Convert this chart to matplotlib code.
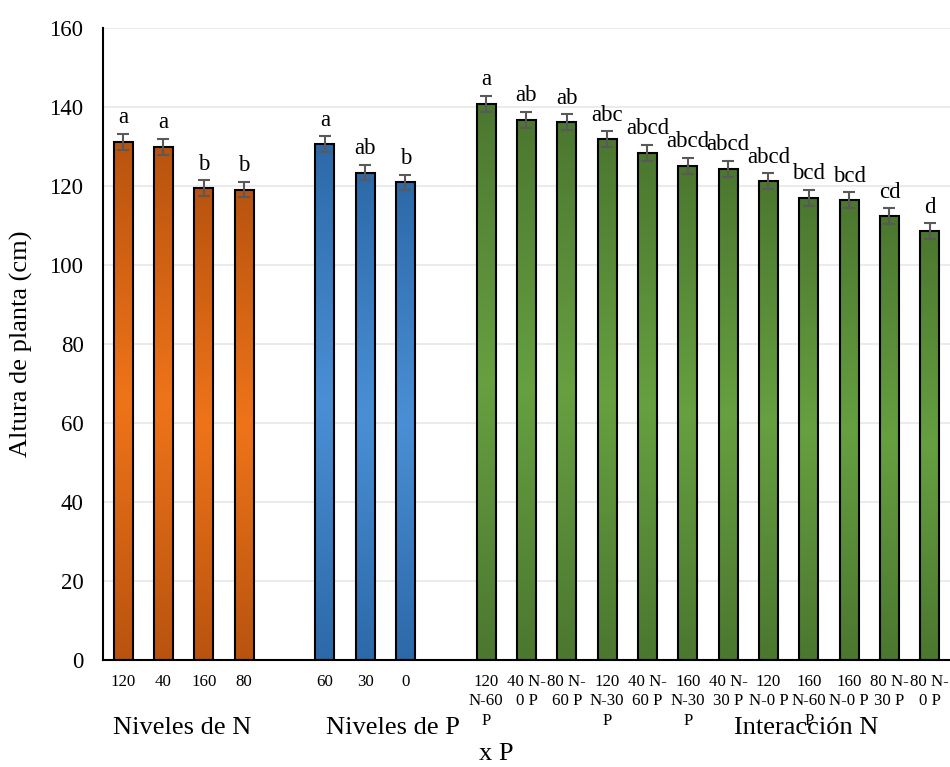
import numpy as np
import matplotlib
matplotlib.use('Agg')
import matplotlib.pyplot as plt
from matplotlib.colors import LinearSegmentedColormap

plt.rcParams['font.family'] = ['Liberation Serif', 'DejaVu Serif']

# ---- data ----
n_labels = ['120', '40', '160', '80']
n_vals = [131.2, 129.9, 119.5, 119.1]
n_err = [2.0, 2.0, 2.0, 2.0]
n_sig = ['a', 'a', 'b', 'b']

p_labels = ['60', '30', '0']
p_vals = [130.6, 123.4, 120.9]
p_err = [2.0, 2.0, 2.0]
p_sig = ['a', 'ab', 'b']

np_labels = ['120\nN-60\nP', '40 N-\n0 P', '80 N-\n60 P', '120\nN-30\nP',
             '40 N-\n60 P', '160\nN-30\nP', '40 N-\n30 P', '120\nN-0 P',
             '160\nN-60\nP', '160\nN-0 P', '80 N-\n30 P', '80 N-\n0 P']
np_vals = [140.8, 136.8, 136.2, 131.9, 128.4, 125.1, 124.4, 121.2,
           117.0, 116.4, 112.4, 108.6]
np_err = [2.0] * 12
np_sig = ['a', 'ab', 'ab', 'abc', 'abcd', 'abcd', 'abcd', 'abcd',
          'bcd', 'bcd', 'cd', 'd']

groups = [
    (n_labels, n_vals, n_err, n_sig, ('#B8530F', '#EF7419')),
    (p_labels, p_vals, p_err, p_sig, ('#2C69A8', '#4A8FD5')),
    (np_labels, np_vals, np_err, np_sig, ('#4B772F', '#66A040')),
]

fig = plt.figure(figsize=(9.5, 7.67), dpi=100)
ax = fig.add_axes([0.1084, 0.1395, 0.8916, 0.824])

width = 0.47
pos = 0
ticks, ticklabels = [], []
for labels, vals, errs, sig, (dark, light) in groups:
    x = np.arange(pos, pos + len(vals))
    cmap = LinearSegmentedColormap.from_list('g', [dark, light, dark])
    bars = ax.bar(x, vals, width, color='none', edgecolor='black',
                  linewidth=1.5, zorder=3)
    # vertical gradient fill clipped to each bar
    for b in bars:
        x0, h = b.get_x(), b.get_height()
        grad = np.linspace(0, 1, 256).reshape(-1, 1)
        im = ax.imshow(grad, cmap=cmap, aspect='auto', origin='lower',
                       extent=(x0, x0 + b.get_width(), 0, h), zorder=2)
        im.set_clip_path(b)
    ax.errorbar(x, vals, yerr=errs, fmt='none', ecolor='#595959',
                elinewidth=1.5, capsize=4.5, capthick=1.5, zorder=4)
    for xi, v, e, s in zip(x, vals, errs, sig):
        ax.annotate(s, (xi, v + e), xytext=(0, 4), textcoords='offset points',
                    ha='center', va='bottom', fontsize=16.5)
    ticks += list(x)
    ticklabels += labels
    pos += len(vals) + 1

ax.set_xlim(-0.5, 20.5)
ax.set_ylim(0, 160)
ax.set_yticks(np.arange(0, 161, 20))
ax.set_xticks(ticks)
ax.set_xticklabels(ticklabels, fontsize=12.2, linespacing=1.3)
ax.tick_params(axis='y', length=0, labelsize=16.5, pad=14)
ax.tick_params(axis='x', length=0, pad=10)
ax.grid(axis='y', color='#E8E8E8', linewidth=1.2, zorder=0)
ax.set_axisbelow(True)
for side in ['top', 'right']:
    ax.spines[side].set_visible(False)
ax.spines['left'].set_linewidth(1.5)
ax.spines['bottom'].set_linewidth(1.5)
ax.set_ylabel('Altura de planta (cm)', fontsize=19)
ax.yaxis.set_label_coords(-0.0826, 0.5)

fig.text(182 / 950, 1 - 728 / 767, 'Niveles de N', fontsize=19,
         ha='center', va='center')
fig.text(393 / 950, 1 - 728 / 767, 'Niveles de P', fontsize=19,
         ha='center', va='center')
fig.text(806 / 950, 1 - 728 / 767, 'Interacción N', fontsize=19,
         ha='center', va='center')
fig.text(496 / 950, 1 - 754 / 767, 'x P', fontsize=19,
         ha='center', va='center')

fig.savefig('out.png', dpi=100)
